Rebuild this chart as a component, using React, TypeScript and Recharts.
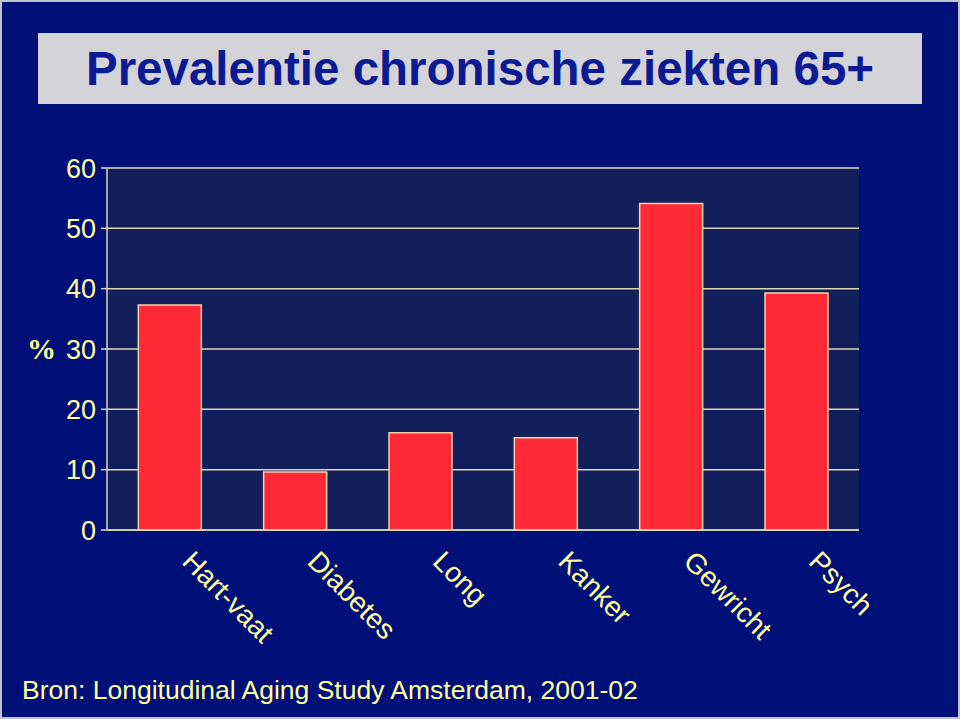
import { Bar, BarChart, CartesianGrid, XAxis, YAxis } from "recharts";

const CATEGORIES = ["Hart-vaat", "Diabetes", "Long", "Kanker", "Gewricht", "Psych"];
const PREVALENCE = [37.3, 9.6, 16.1, 15.3, 54.1, 39.3];
const Y_TICKS = [0, 10, 20, 30, 40, 50, 60];

const TITLE = "Prevalentie chronische ziekten 65+";
const SOURCE = "Bron: Longitudinal Aging Study Amsterdam, 2001-02";

const BG = "#001078";
const PLOT_BG = "#131f5b";
const TEXT = "#ffff9c";
const LINE = "#dcd8b4";
const BAR = "#ff2a36";
const BAR_EDGE = "#f2d2a8";
const SANS = "'Liberation Sans', Arial, Helvetica, sans-serif";

const data = CATEGORIES.map((name, i) => ({ name, value: PREVALENCE[i] }));

// x labels hang off the axis at 45 degrees, like the old powerpoint chart
function SlantedTick({ x, y, payload }: any) {
  return (
    <text
      transform={`translate(${x + 11},${y + 33}) rotate(45)`}
      fill={TEXT}
      fontSize={28}
      fontFamily={SANS}
      textAnchor="start"
    >
      {payload.value}
    </text>
  );
}

export default function App() {
  return (
    <div
      style={{
        position: "absolute",
        left: 0,
        top: 0,
        width: 960,
        height: 719,
        background: BG,
        border: "2px solid #c4c4cc",
        boxSizing: "border-box",
        overflow: "hidden",
      }}
    >
      <div
        style={{
          position: "absolute",
          left: 36,
          top: 31,
          width: 884,
          height: 71,
          background: "#d4d4d8",
        }}
      >
        <span
          style={{
            position: "absolute",
            left: 0,
            right: 0,
            top: 55 - 0.905 * 47.5 - 0.5,
            color: "#0a1a92",
            fontFamily: SANS,
            fontWeight: "bold",
            fontSize: 47.5,
            lineHeight: 1,
            textAlign: "center",
            whiteSpace: "nowrap",
          }}
        >
          {TITLE}
        </span>
      </div>
      <div style={{ position: "absolute", left: -2, top: -2 }}>
        <BarChart
          width={960}
          height={719}
          data={data}
          margin={{ top: 168, right: 101, left: 7, bottom: 39 }}
          barCategoryGap="25%"
        >
          <CartesianGrid
            yAxisId="left"
            vertical={false}
            stroke={LINE}
            strokeWidth={1.5}
            fill={PLOT_BG}
            fillOpacity={1}
          />
          <XAxis
            dataKey="name"
            interval={0}
            height={150}
            tickSize={0}
            tickMargin={0}
            tickLine={false}
            axisLine={{ stroke: LINE, strokeWidth: 1.5 }}
            tick={<SlantedTick />}
          />
          <YAxis
            yAxisId="left"
            domain={[0, 60]}
            ticks={Y_TICKS}
            width={100}
            tickSize={6}
            tickMargin={5}
            axisLine={{ stroke: LINE, strokeWidth: 1.5 }}
            tickLine={{ stroke: LINE, strokeWidth: 1.5 }}
            tick={{ fill: TEXT, fontSize: 27, fontFamily: SANS }}
          />
          <YAxis
            yAxisId="right"
            orientation="right"
            domain={[0, 60]}
            width={0}
            tick={false}
            tickLine={false}
            axisLine={{ stroke: LINE, strokeWidth: 1.5 }}
          />
          <Bar
            yAxisId="left"
            dataKey="value"
            fill={BAR}
            stroke={BAR_EDGE}
            strokeWidth={1.5}
            isAnimationActive={false}
          />
        </BarChart>
      </div>
      <span
        style={{
          position: "absolute",
          left: 25,
          top: 331,
          color: TEXT,
          fontFamily: "'Liberation Serif', 'Times New Roman', serif",
          fontWeight: "bold",
          fontSize: 29,
        }}
      >
        %
      </span>
      <div
        style={{
          position: "absolute",
          left: 20,
          top: 673,
          color: TEXT,
          fontFamily: SANS,
          fontSize: 26.5,
          whiteSpace: "nowrap",
        }}
      >
        {SOURCE}
      </div>
    </div>
  );
}
